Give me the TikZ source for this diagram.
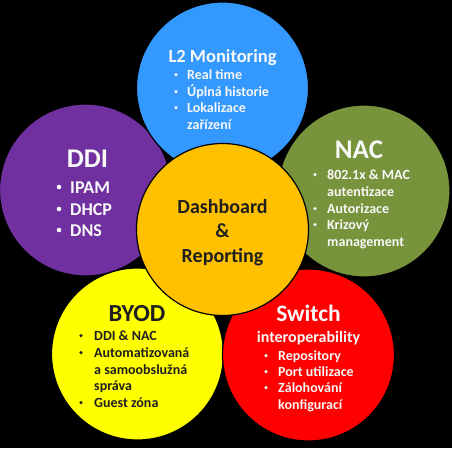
\documentclass[tikz,border=0pt]{standalone}
\usepackage{fontspec}
\setmainfont{Carlito}
\definecolor{cblue}{HTML}{3399FF}
\definecolor{cpurple}{HTML}{7030A0}
\definecolor{cgreen}{HTML}{77933C}
\definecolor{cyellow}{HTML}{FFFF00}
\definecolor{cred}{HTML}{FF0000}
\definecolor{corange}{HTML}{FFC000}
\definecolor{cdark}{HTML}{1F1F1F}
\definecolor{cwhite}{HTML}{F8F8F8}
\newcommand{\fs}[1]{\bfseries\fontsize{#1}{#1}\selectfont}
\def\dup{4.4}\def\drad{1.7}
\newcommand{\bline}[5]{%
  \fill (#2,#4-\dup) circle (\drad pt);
  \node[txt] (#1) at (#3,#4) {#5};}
\newcommand{\pline}[4]{%
  \node[txt] (#1) at (#2,#3) {#4};}
\begin{document}
\begin{tikzpicture}[x=1pt,y=-1pt,
  disc/.style={circle, draw=black, line width=1.2pt, minimum size=172pt, inner sep=0pt},
  txt/.style={anchor=base west, inner sep=0pt, font=\fs{14}},
  ttl/.style={anchor=base, inner sep=0pt}]
\fill[black] (0,0) rectangle (452,448);
\useasboundingbox (0,0) rectangle (452,448);
% circles
\node[disc, fill=cpurple] (ddi) at (85.5,190) {};
\node[disc, fill=cgreen] (nac) at (364,191) {};
\node[disc, fill=cblue] (mon) at (222.5,88) {};
\node[disc, fill=cyellow] (byod) at (137.5,354) {};
\node[disc, fill=cred] (sw) at (308.5,355) {};
\node[disc, fill=corange] (dash) at (222.5,229.5) {};
% L2 Monitoring
\begin{scope}[cwhite]
\node[ttl, font=\fs{18.5}] (monT) at (222.5,62) {L2 Monitoring};
\bline{mon1}{176}{187}{79}{Real time}
\bline{mon2}{176}{187}{96}{Úplná historie}
\bline{mon3}{176}{187}{112}{Lokalizace}
\pline{mon4}{187}{129}{zařízení}
\end{scope}
% DDI
\begin{scope}[cwhite]
\def\dup{6}\def\drad{2.3}
\node[ttl, font=\fs{27}] (ddiT) at (87.5,167) {DDI};
\tikzset{txt/.append style={font=\fs{18}}}
\bline{ddi1}{59}{70}{193}{IPAM}
\bline{ddi2}{59}{70}{215}{DHCP}
\bline{ddi3}{59}{70}{236}{DNS}
\end{scope}
% NAC
\begin{scope}[cwhite]
\node[ttl, font=\fs{27}] (nacT) at (359,158) {NAC};
\bline{nac1}{315}{327}{179}{802.1x \& MAC}
\pline{nac2}{327}{196}{autentizace}
\bline{nac3}{315}{327}{213}{Autorizace}
\bline{nac4}{315}{327}{229}{Krizový}
\pline{nac5}{327}{246}{management}
\end{scope}
% Dashboard
\begin{scope}[cdark]
\node[ttl, font=\fs{20}] (dash1) at (222.5,213) {Dashboard};
\node[ttl, font=\fs{20}] (dash2) at (222.5,237) {\&};
\node[ttl, font=\fs{20}] (dash3) at (222.5,262) {Reporting};
\end{scope}
% BYOD
\begin{scope}[cdark]
\node[ttl, font=\fs{24.5}] (byodT) at (137,321) {BYOD};
\bline{byod1}{81}{94}{340}{DDI \& NAC}
\bline{byod2}{81}{94}{357}{Automatizovaná}
\pline{byod3}{94}{374}{a samoobslužná}
\pline{byod4}{94}{390}{správa}
\bline{byod5}{81}{94}{407}{Guest zóna}
\end{scope}
% Switch
\begin{scope}[cwhite]
\node[ttl, font=\fs{23.5}] (swT) at (308.5,321) {Switch};
\node[ttl, font=\fs{16}] (swS) at (308.5,342) {interoperability};
\bline{sw1}{266}{278}{360}{Repository}
\bline{sw2}{266}{278}{376}{Port utilizace}
\bline{sw3}{266}{278}{392}{Zálohování}
\pline{sw4}{278}{409}{konfigurací}
\end{scope}
\end{tikzpicture}
\end{document}
